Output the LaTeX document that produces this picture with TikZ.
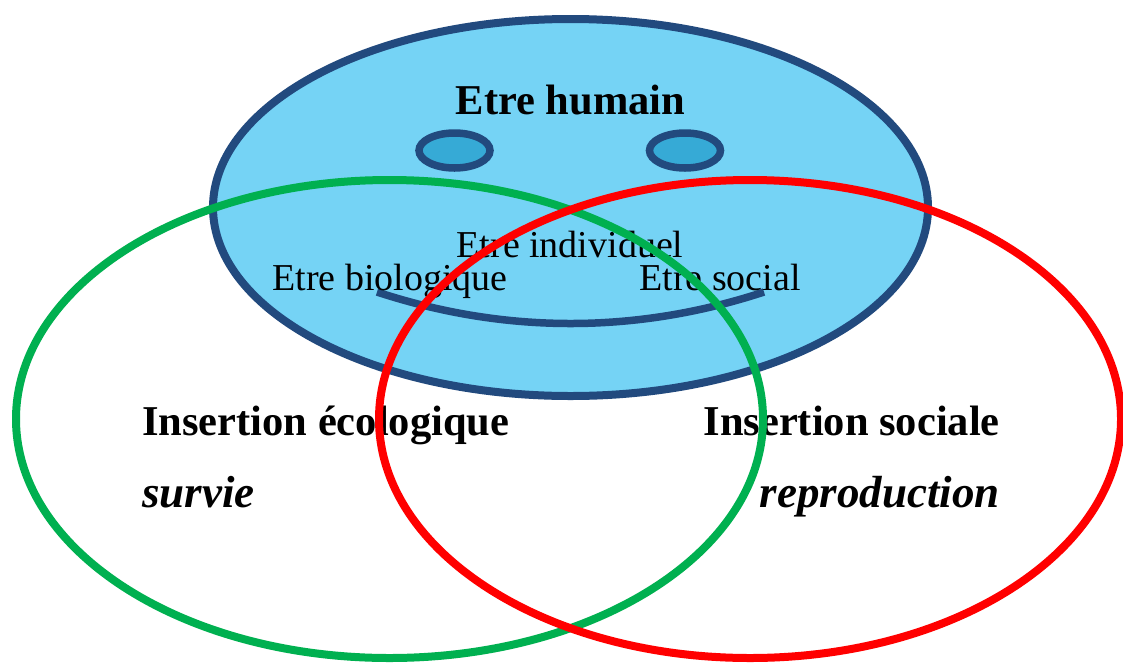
\documentclass[tikz,border=0pt]{standalone}
\usepackage{fontspec}
\setmainfont{Liberation Serif}
\definecolor{faceFill}{HTML}{75D3F5}
\definecolor{faceLine}{HTML}{224A7E}
\definecolor{eyeFill}{HTML}{36AAD6}
\definecolor{ecoGreen}{HTML}{00B050}
\definecolor{socRed}{HTML}{FF0000}
\tikzset{
  face/.style={draw=faceLine, fill=faceFill, line width=8pt},
  eye/.style={draw=faceLine, fill=eyeFill, line width=7.5pt},
  smile/.style={draw=faceLine, line width=7.5pt},
  ring/.style={line width=8pt},
  plain/.style={anchor=base, inner sep=0pt, font=\fontsize{38}{41}\selectfont},
  heading/.style={anchor=base, inner sep=0pt, font=\fontsize{42.5}{46}\selectfont\bfseries},
  keyword/.style={anchor=base, inner sep=0pt, font=\fontsize{45}{48}\selectfont\bfseries\itshape},
}
\begin{document}
\begin{tikzpicture}[x=1pt, y=-1pt]
\useasboundingbox (0,0) rectangle (1123,662);
\clip (0,0) rectangle (1123,662);
% head
\draw[face] (570.5,207.5) ellipse [x radius=357.5, y radius=188.5];
% eyes
\draw[eye] (454.5,150.5) ellipse [x radius=35.5, y radius=17.5];
\draw[eye] (685,150.5) ellipse [x radius=35.5, y radius=17.5];
% mouth
\coordinate (mouthL) at (377,292);
\coordinate (mouthR) at (764,292);
\draw[smile] (mouthL) .. controls (505,334) and (636,334) .. (mouthR);
% labels inside the head
\node[heading] (humain) at (570.5,114) {Etre humain};
\node[plain] (indiv) at (570,257) {Etre individuel};
\node[plain] (bio) at (390,290) {Etre biologique};
\node[plain] (soc) at (720,290) {Etre social};
% labels of the two insertions
\node[heading, anchor=base west] (eco) at (142,435) {Insertion écologique};
\node[keyword, anchor=base west] (survie) at (142,507) {survie};
\node[heading, anchor=base east] (insoc) at (1000,435) {Insertion sociale};
\node[keyword, anchor=base east] (repro) at (1000,507) {reproduction};
% the two insertion rings
\draw[ring, ecoGreen] (389.5,419) ellipse [x radius=373.5, y radius=239];
\draw[ring, socRed] (750,419) ellipse [x radius=371, y radius=239];
\end{tikzpicture}
\end{document}
